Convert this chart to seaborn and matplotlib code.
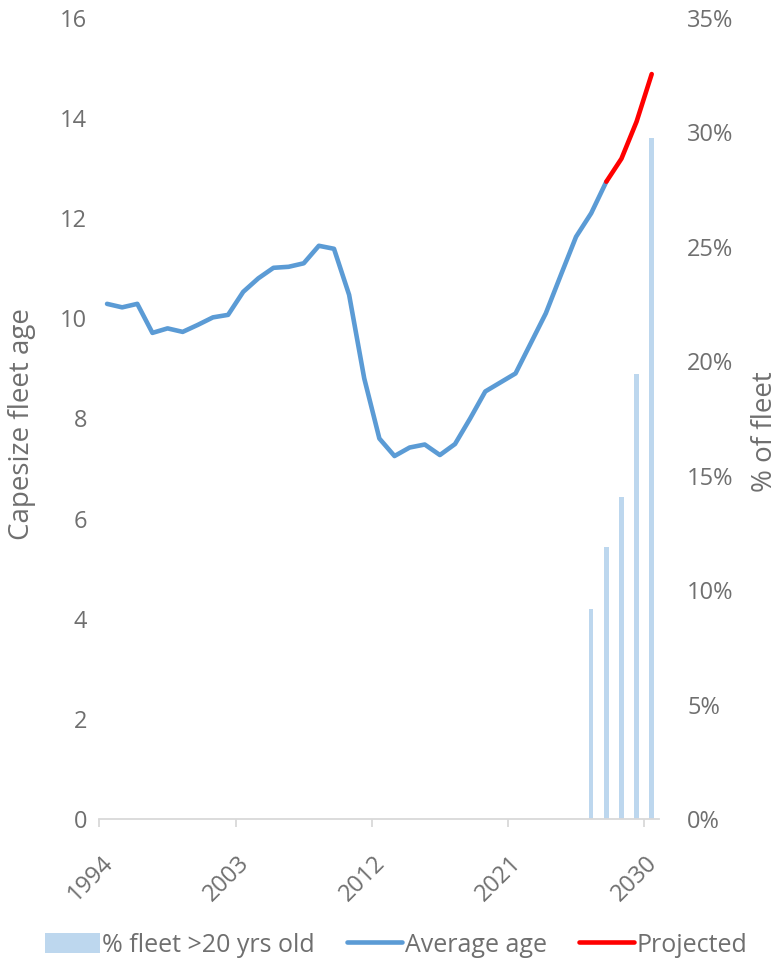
import matplotlib
matplotlib.use("Agg")
import matplotlib.pyplot as plt
import matplotlib.transforms as mtransforms
from matplotlib.patches import Patch
from matplotlib.lines import Line2D
from matplotlib.ticker import PercentFormatter, FixedLocator, MultipleLocator
import numpy as np
import pandas as pd
import seaborn as sns

# Capesize fleet: average age (years) and share of fleet older than 20 years
age_years = list(range(1994, 2028))
avg_age = [10.29, 10.22, 10.29, 9.71, 9.80, 9.73, 9.87, 10.02, 10.07, 10.53,
           10.80, 11.01, 11.03, 11.10, 11.45, 11.39, 10.47, 8.80, 7.60, 7.25,
           7.42, 7.48, 7.27, 7.49, 8.00, 8.54, 8.72, 8.90, 9.50, 10.10,
           10.87, 11.63, 12.10, 12.73]

proj_years = [2027, 2028, 2029, 2030]
proj_age = [12.73, 13.19, 13.93, 14.88]

old_years = [2026, 2027, 2028, 2029, 2030]
old_share = [9.16, 11.87, 14.06, 19.45, 29.76]  # % of fleet > 20 yrs old

tick_years = [1994, 2003, 2012, 2021, 2030]

# each year is plotted at the centre of its category slot
CENTRE = 0.5

sns.set_theme(style="white")
plt.rcParams["font.family"] = ["Open Sans", "DejaVu Sans"]

TXT = "#6F6F6F"
BLUE = "#5B9BD5"
RED = "#FF0000"
BAR = "#BDD7EE"
FS = 17

fig = plt.figure(figsize=(7.79, 9.60), dpi=100)
ax = fig.add_axes([0.1277, 0.1469, 0.8463 - 0.1277, 0.98125 - 0.1469])
ax2 = ax.twinx()

bars = pd.DataFrame({"x": np.array(old_years) + CENTRE, "share": np.array(old_share) / 100})
sns.barplot(data=bars, x="x", y="share", native_scale=True, width=0.3,
            color=BAR, saturation=1, ax=ax2, linewidth=0)

hist = pd.DataFrame({"x": np.array(age_years) + CENTRE, "age": avg_age})
proj = pd.DataFrame({"x": np.array(proj_years) + CENTRE, "age": proj_age})
sns.lineplot(data=hist, x="x", y="age", color=BLUE, linewidth=3.3, ax=ax,
             solid_capstyle="round")
sns.lineplot(data=proj, x="x", y="age", color=RED, linewidth=3.3, ax=ax,
             solid_capstyle="round")

ax.set_zorder(ax2.get_zorder() + 1)
ax.patch.set_visible(False)

ax.set_xlim(1994, 2031)
ax.set_ylim(0, 16)
ax2.set_ylim(0, 0.35)

ax.yaxis.set_major_locator(MultipleLocator(2))
ax2.yaxis.set_major_locator(MultipleLocator(0.05))
ax2.yaxis.set_major_formatter(PercentFormatter(1.0, decimals=0))

# x ticks: marks from the axis, rotated year labels placed below them
ax.xaxis.set_major_locator(FixedLocator(tick_years))
ax.tick_params(axis="x", which="major", bottom=True, length=6, width=1.3,
               color="#D9D9D9", labelbottom=False)
shift = mtransforms.ScaledTranslation(10 / 100, -41 / 100, fig.dpi_scale_trans)
for y in tick_years:
    ax.text(y, 0, str(y), transform=ax.get_xaxis_transform() + shift,
            rotation=45, rotation_mode="anchor", ha="right", va="center",
            color=TXT, fontsize=FS)

for a in (ax, ax2):
    for s in a.spines.values():
        s.set_visible(False)
ax.spines["bottom"].set_visible(True)
ax.spines["bottom"].set_color("#D9D9D9")
ax.spines["bottom"].set_linewidth(1.3)

ax.tick_params(axis="y", left=False, length=0, labelcolor=TXT, labelsize=FS, pad=9)
ax2.tick_params(axis="y", right=False, length=0, labelcolor=TXT, labelsize=FS, pad=20)
ax2.tick_params(axis="x", bottom=False, labelbottom=False)

ax.set_xlabel("")
ax.set_ylabel("Capesize fleet age", color=TXT, fontsize=20, va="center", ha="center")
ax.yaxis.set_label_coords(-0.1384, 0.493)
ax2.set_xlabel("")
ax2.set_ylabel("% of fleet", color=TXT, fontsize=20, va="center", ha="center")
ax2.yaxis.set_label_coords(1.189, 0.483)

handles = [
    Patch(facecolor=BAR, edgecolor="none"),
    Line2D([], [], color=BLUE, linewidth=3.3, solid_capstyle="round"),
    Line2D([], [], color=RED, linewidth=3.3, solid_capstyle="round"),
]
labels = ["% fleet >20 yrs old", "Average age", "Projected"]
leg = fig.legend(handles, labels, loc="center", bbox_to_anchor=(396 / 779, 15 / 960),
                 ncol=3, frameon=False, fontsize=FS + 1, handlelength=2.2,
                 handleheight=0.9, handletextpad=0.1, columnspacing=1.3,
                 borderaxespad=0, borderpad=0)
for t in leg.get_texts():
    t.set_color(TXT)

fig.savefig("out.png", dpi=100)
